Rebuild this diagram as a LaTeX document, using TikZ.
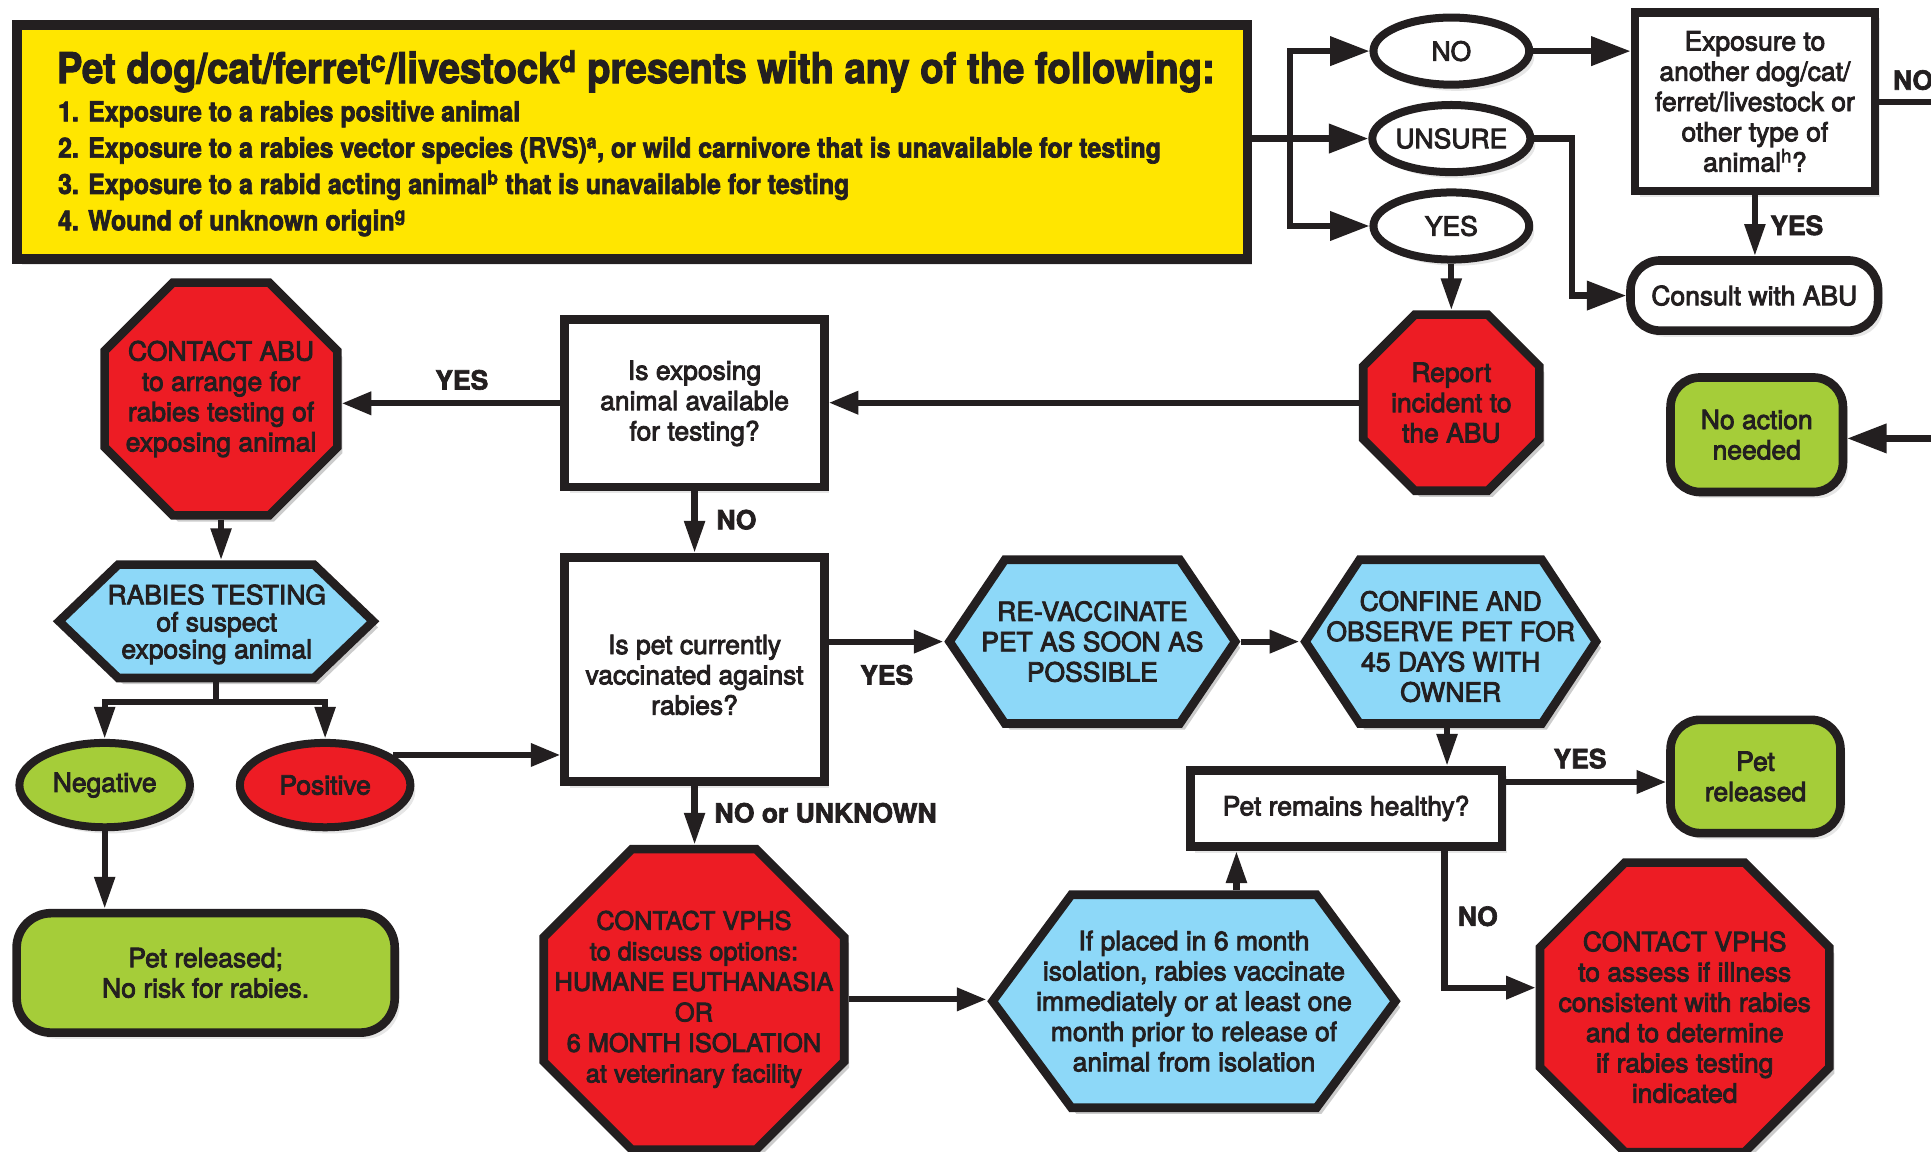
\documentclass[tikz,border=0pt]{standalone}
\usepackage{fontspec}
\setmainfont{TeX Gyre Heros}
\newfontfamily\medfont{TeX Gyre Heros}[FakeBold=3.2]
\newfontfamily\heavyfont{TeX Gyre Heros}[FakeBold=2.5]
\newfontfamily\condfont{TeX Gyre Heros}[FakeStretch=0.9, FakeBold=2.5]
\usetikzlibrary{arrows.meta,shapes.geometric,shadows,backgrounds}
\definecolor{ink}{HTML}{231F20}
\definecolor{ared}{HTML}{ED1C24}
\definecolor{agreen}{HTML}{A5CD39}
\definecolor{ablue}{HTML}{8DD8F8}
\definecolor{ayellow}{HTML}{FFE600}

\newcommand\octshape[3]{%
 \path[#1] ([shift={(#3+3.5,3.5)}]#2.north west) -- ([shift={(-#3-3.5,3.5)}]#2.north east)
   -- ([shift={(-3.5,#3+3.5)}]#2.north east) -- ([shift={(-3.5,-#3-3.5)}]#2.south east)
   -- ([shift={(-#3-3.5,-3.5)}]#2.south east) -- ([shift={(#3+3.5,-3.5)}]#2.south west)
   -- ([shift={(3.5,-#3-3.5)}]#2.south west) -- ([shift={(3.5,#3+3.5)}]#2.north west) -- cycle;}
\newcommand\hexshape[3]{%
 \path[#1] ([xshift=5pt]#2.west) -- ([shift={(#3,3.5)}]#2.north west) -- ([shift={(-#3,3.5)}]#2.north east)
   -- ([xshift=-5pt]#2.east) -- ([shift={(-#3,-3.5)}]#2.south east) -- ([shift={(#3,-3.5)}]#2.south west) -- cycle;}

\tikzset{
  ntext/.style={font=\medfont\fontsize{21.5}{24.6}\selectfont, text=ink, align=center, inner sep=0pt},
  lab/.style={font=\heavyfont\bfseries\fontsize{21.5}{24}\selectfont, text=ink, inner sep=0pt},
  dshadow/.style={drop shadow={opacity=0.2, shadow xshift=4pt, shadow yshift=-5pt}},
  boxst/.style={ntext, rectangle, draw=ink, line width=7pt, fill=white, dshadow},
  rbox/.style={boxst, rounded corners=24pt},
  ell/.style={ntext, ellipse, draw=ink, line width=6.5pt, fill=white, dshadow},
  zone/.style={ntext, rectangle, outer sep=0pt},
  bgshadow/.style={fill=black, opacity=0.2, transform canvas={shift={(4pt,-5pt)}}},
  bgshape/.style={draw=ink, line width=7pt, line join=miter},
  conn/.style={draw=ink, line width=5pt},
  arrL/.style={-{Triangle[length=32pt,width=23pt]}},
  arrS/.style={-{Triangle[length=24pt,width=18pt]}},
  arrV/.style={-{Triangle[length=26pt,width=16pt]}},
  intro/.style={anchor=base west, inner sep=0pt, text=ink, font=\condfont\bfseries\fontsize{22.5}{28}\selectfont},
}

\begin{document}
\begin{tikzpicture}[x=1pt,y=-1pt]
\useasboundingbox (0,0) rectangle (1568,935);
\clip (0,0) rectangle (1568,935);

% ---------- intro box ----------
\node[draw=ink, line width=8pt, fill=ayellow, rectangle, inner sep=0pt, minimum width=999pt, minimum height=190pt, dshadow] (intro) at (513.5,115) {};
\node[anchor=base west, inner sep=0pt, text=ink, font=\condfont\bfseries\fontsize{34.5}{40}\selectfont] (title) at (46,67.5) {Pet dog/cat/ferret\textsuperscript{c}/livestock\textsuperscript{d} presents with any of the following:};
\node[intro] (it1) at (47,98.5) {1. Exposure to a rabies positive animal};
\node[intro] (it2) at (47,128) {2. Exposure to a rabies vector species (RVS)\textsuperscript{a}, or wild carnivore that is unavailable for testing};
\node[intro] (it3) at (47,157.5) {3. Exposure to a rabid acting animal\textsuperscript{b} that is unavailable for testing};
\node[intro] (it4) at (47,187) {4. Wound of unknown origin\textsuperscript{g}};

% ---------- answers ----------
\node[ell, minimum width=126.5pt, minimum height=54.5pt] (noE) at (1178.5,41.5) {NO};
\node[ell, minimum width=126.5pt, minimum height=54.5pt] (unsE) at (1178.5,112.5) {UNSURE};
\node[ell, minimum width=126.5pt, minimum height=54.5pt] (yesE) at (1178.5,183.5) {YES};
\coordinate (trunk) at (1047.5,112.5);
\draw[conn,arrL] (intro.east |- unsE) -- (unsE.west);
\draw[conn,arrL] (trunk) |- (noE.west);
\draw[conn,arrL] (trunk) |- (yesE.west);

% ---------- exposure / consult ----------
\node[boxst, minimum width=195pt, minimum height=145pt] (expo) at (1425,82.5) {Exposure to\\another dog/cat/\\ferret/livestock or\\other type of\\animal\textsuperscript{h}?};
\draw[conn,arrL] (noE.east) -- (noE.east -| expo.west);
\coordinate (offNO) at (1600,82.5);
\draw[conn] (expo.east) -- (offNO);
\node[lab, anchor=west] (labNOa) at (1537,65) {NO};

\node[rbox, minimum width=201pt, minimum height=57pt] (consult) at (1424.5,240) {Consult with ABU};
\draw[conn,arrV] (expo.south) -- (expo.south |- consult.north);
\node[lab] (labYESa) at (1459,183) {YES};
\coordinate (unsBend) at (1276.5,112.5);
\draw[conn,arrL] (unsE.east) -- (unsBend) |- (consult.west);

% ---------- report ----------
\node[zone, minimum width=150pt, minimum height=150pt] (report) at (1178.5,327) {Report\\incident to\\the ABU};
\draw[conn,arrV] (yesE.south) -- (report.north);

\node[rbox, fill=agreen, minimum width=140pt, minimum height=93pt] (noact) at (1426.5,353) {No action\\needed};
\coordinate (offNA) at (1600,356);
\draw[conn,arrL] (offNA) -- (offNA -| noact.east);

% ---------- is exposing ----------
\node[boxst, minimum width=211pt, minimum height=136pt] (isexp) at (564,327.5) {Is exposing\\animal available\\for testing?};
\draw[conn,arrS] (report.west) -- (report.west -| isexp.east);

\node[zone, minimum width=196pt, minimum height=196pt] (cabu) at (179.5,324) {CONTACT ABU\\to arrange for\\rabies testing of\\exposing animal};
\draw[conn,arrS] (isexp.west) -- (isexp.west -| cabu.east);
\node[lab] (labYESb) at (375,308.5) {YES};

% ---------- rabies testing ----------
\node[zone, font=\medfont\fontsize{21.5}{22}\selectfont, minimum width=265pt, minimum height=99pt] (rabies) at (175.5,504.5) {};
\node[zone, font=\medfont\fontsize{21.5}{22}\selectfont] (rabiesT) at (176,507) {RABIES TESTING\\of suspect\\exposing animal};
\draw[conn,arrV] (cabu.south) -- (cabu.south |- rabies.north);

\node[ell, fill=agreen, minimum width=138.5pt, minimum height=68.5pt] (negE) at (85,637.5) {Negative};
\node[ell, fill=ared, minimum width=138.5pt, minimum height=68.5pt] (posE) at (264,637.5) {Positive};
\coordinate (split) at (175.5,570);
\draw[conn] (rabies.south) -- (split);
\draw[conn,arrV] (split) -| (negE.north);
\draw[conn,arrV] (split) -| (posE.north);

\node[rbox, fill=agreen, rounded corners=28pt, minimum width=307pt, minimum height=97pt] (petrel1) at (167,790) {Pet released;\\No risk for rabies.};
\draw[conn,arrV] (negE.south) -- (negE.south |- petrel1.north);

% ---------- vaccinated? ----------
\node[boxst, minimum width=211pt, minimum height=182pt] (ispet) at (564,543.5) {};
\node[ntext] (ispetT) at (564,548) {Is pet currently\\vaccinated against\\rabies?};
\draw[conn,arrV] (isexp.south) -- (ispet.north);
\node[lab] (labNOb) at (598,422) {NO};
\draw[conn,arrS] (posE.24) -- (posE.24 -| ispet.west);

\node[zone, minimum width=242pt, minimum height=140pt] (revacc) at (887,521) {RE-VACCINATE\\PET AS SOON AS\\POSSIBLE};
\draw[conn,arrS] (ispet.east |- revacc.west) -- (revacc.west);
\node[lab] (labYESc) at (720,548) {YES};

\node[zone, minimum width=246pt, minimum height=140pt] (confine) at (1178,521) {};
\node[ntext] (confineT) at (1178,525) {CONFINE AND\\OBSERVE PET FOR\\45 DAYS WITH\\OWNER};
\draw[conn,arrS] (revacc.east) -- (confine.west);

% ---------- healthy ----------
\node[boxst, minimum width=253pt, minimum height=62pt] (healthy) at (1093,656.5) {Pet remains healthy?};
\draw[conn,arrV] ([xshift=-3pt]confine.south) -- ([xshift=-3pt]confine.south |- healthy.north);

\node[rbox, fill=agreen, minimum width=138pt, minimum height=92pt] (petrel2) at (1425.5,630.5) {Pet\\released};
\draw[conn,arrS] ([yshift=21.5pt]healthy.east) -- ([yshift=21.5pt]healthy.east -| petrel2.west);
\node[lab] (labYESd) at (1283,616) {YES};

\node[zone, minimum width=242pt, minimum height=242pt] (vphs2) at (1368,818) {};
\node[ntext] (vphs2T) at (1368,826) {CONTACT VPHS\\to assess if illness\\consistent with rabies\\and to determine\\if rabies testing\\indicated};
\coordinate (hNo) at (1173,802);
\draw[conn,arrS] (healthy.south -| hNo) -- (hNo) -- (hNo -| vphs2.west);
\node[lab] (labNOc) at (1200,744) {NO};

% ---------- no / unknown ----------
\node[zone, font=\medfont\fontsize{20.6}{24.8}\selectfont, minimum width=251pt, minimum height=251pt] (vphs1) at (563.5,811.5) {CONTACT VPHS\\to discuss options:\\HUMANE EUTHANASIA\\OR\\6 MONTH ISOLATION\\at veterinary facility};
\draw[conn,arrV] (ispet.south) -- (ispet.south |- vphs1.north);
\node[lab, anchor=west] (labNOU) at (580,660) {NO or UNKNOWN};

\node[zone, minimum width=337pt, minimum height=180pt] (iso) at (969.5,813) {If placed in 6 month\\isolation, rabies vaccinate\\immediately or at least one\\month prior to release of\\animal from isolation};
\draw[conn,arrS] (vphs1.east) -- (vphs1.east -| iso.west);
\draw[conn,arrV] ([xshift=34.5pt]iso.north) -- ([xshift=34.5pt]iso.north |- healthy.south);

% ---------- shapes behind the texts ----------
\begin{pgfonlayer}{background}
\octshape{bgshadow}{report}{41.9}
\octshape{bgshape,fill=ared}{report}{41.9}
\octshape{bgshadow}{cabu}{55.4}
\octshape{bgshape,fill=ared}{cabu}{55.4}
\octshape{bgshadow}{vphs1}{71.5}
\octshape{bgshape,fill=ared}{vphs1}{71.5}
\octshape{bgshadow}{vphs2}{68.8}
\octshape{bgshape,fill=ared}{vphs2}{68.8}
\hexshape{bgshadow}{rabies}{53}
\hexshape{bgshape,fill=ablue}{rabies}{53}
\hexshape{bgshadow}{revacc}{50}
\hexshape{bgshape,fill=ablue}{revacc}{50}
\hexshape{bgshadow}{confine}{49}
\hexshape{bgshape,fill=ablue}{confine}{49}
\hexshape{bgshadow}{iso}{69}
\hexshape{bgshape,fill=ablue}{iso}{69}
\end{pgfonlayer}
\end{tikzpicture}
\end{document}
